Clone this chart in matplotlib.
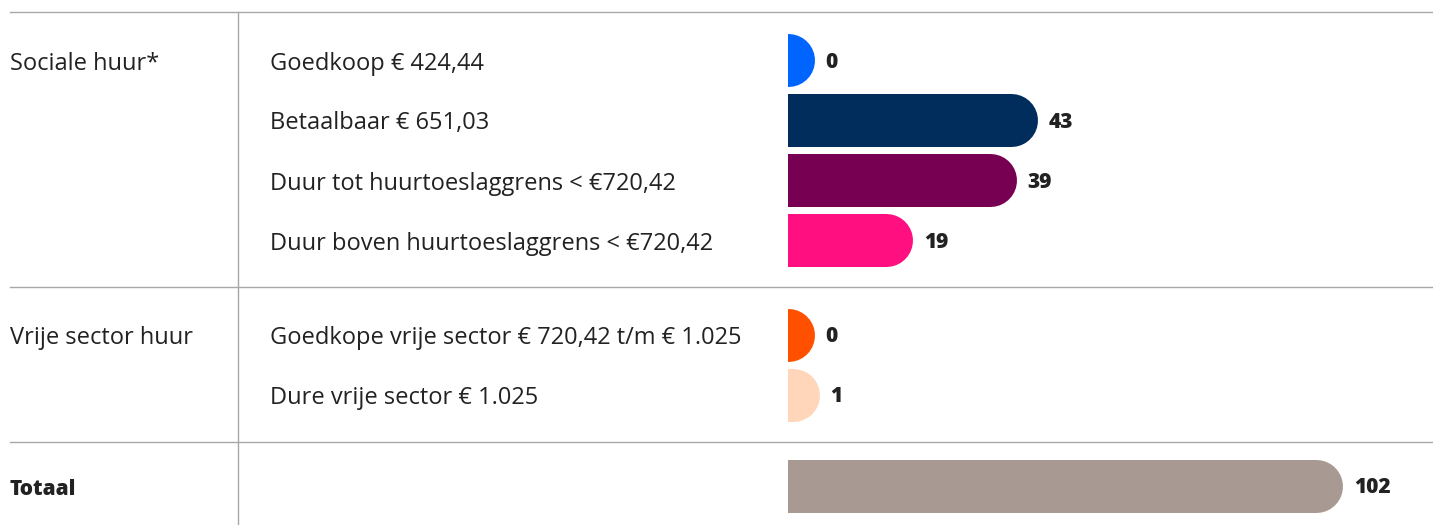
import matplotlib
matplotlib.use("Agg")
import matplotlib.pyplot as plt

# ---- data ----
groups = ["Sociale huur*", "Vrije sector huur", "Totaal"]
group_rows = [4, 2, 1]
categories = [
    "Goedkoop € 424,44",
    "Betaalbaar € 651,03",
    "Duur tot huurtoeslaggrens < €720,42",
    "Duur boven huurtoeslaggrens < €720,42",
    "Goedkope vrije sector € 720,42 t/m € 1.025",
    "Dure vrije sector € 1.025",
    "",
]
values = [0, 43, 39, 19, 0, 1, 102]
colors = ["#0064FF", "#002D5C", "#780052", "#FF0F80", "#FF5000", "#FFD6BA", "#A89A92"]

# ---- layout (pixels) ----
W, H, DPI = 1433, 525, 100
FONT = "Open Sans"
TXT = "#222222"
LINE = "#A8A8A8"
row_h = 60
bar_h = 53
top_line = 12
bar_x0 = 788
px_per_unit = 5.18

row_y = []
sep_y = []
y = top_line
group_first = []
for gi, n in enumerate(group_rows):
    if gi > 0:
        sep_y.append(y)
    if gi < len(group_rows) - 1:
        start = y + 18
        group_first.append(start + row_h / 2)
        for r in range(n):
            row_y.append(start + row_h / 2 + r * row_h)
        y = start + n * row_h + 17
    else:
        start = y + 15
        group_first.append(start + bar_h / 2 + 2)
        row_y.append(start + bar_h / 2 + 2)

fig = plt.figure(figsize=(W / DPI, H / DPI), dpi=DPI)
bg = fig.add_axes([0, 0, 1, 1])
bg.set_xlim(0, W)
bg.set_ylim(H, 0)
bg.axis("off")

bg.plot([10, W], [top_line, top_line], color=LINE, lw=1)
for s in sep_y:
    bg.plot([10, W], [s, s], color=LINE, lw=1)
bg.plot([238, 238], [top_line, H], color=LINE, lw=1)

BASE = 9.5  # half cap height in px
for gi, g in enumerate(groups):
    bold = g == "Totaal"
    bg.text(10, group_first[gi] + BASE, g, ha="left", va="baseline",
            fontsize=17 if not bold else 15, family=FONT,
            fontweight="heavy" if bold else "normal", color=TXT)

for yy, c in zip(row_y, categories):
    if c:
        bg.text(270, yy + BASE, c, ha="left", va="baseline", fontsize=17,
                family=FONT, color=TXT)

ax = fig.add_axes([bar_x0 / W, 0, 1 - bar_x0 / W, 1])
ax.set_xlim(0, (W - bar_x0) / px_per_unit)
ax.set_ylim(H, 0)
ax.axis("off")
lw_pt = bar_h * 72 / DPI
for yy, v, col in zip(row_y, values, colors):
    ax.plot([-5, v], [yy, yy], color=col, lw=lw_pt, solid_capstyle="round")
    ax.annotate(str(v), xy=(v, yy + 7.5), xytext=((bar_h / 2 + 11) * 72 / DPI, 0),
                textcoords="offset points", ha="left", va="baseline",
                fontsize=15, fontweight="heavy", family=FONT, color=TXT,
                annotation_clip=False)

fig.savefig("out.png", dpi=DPI)
